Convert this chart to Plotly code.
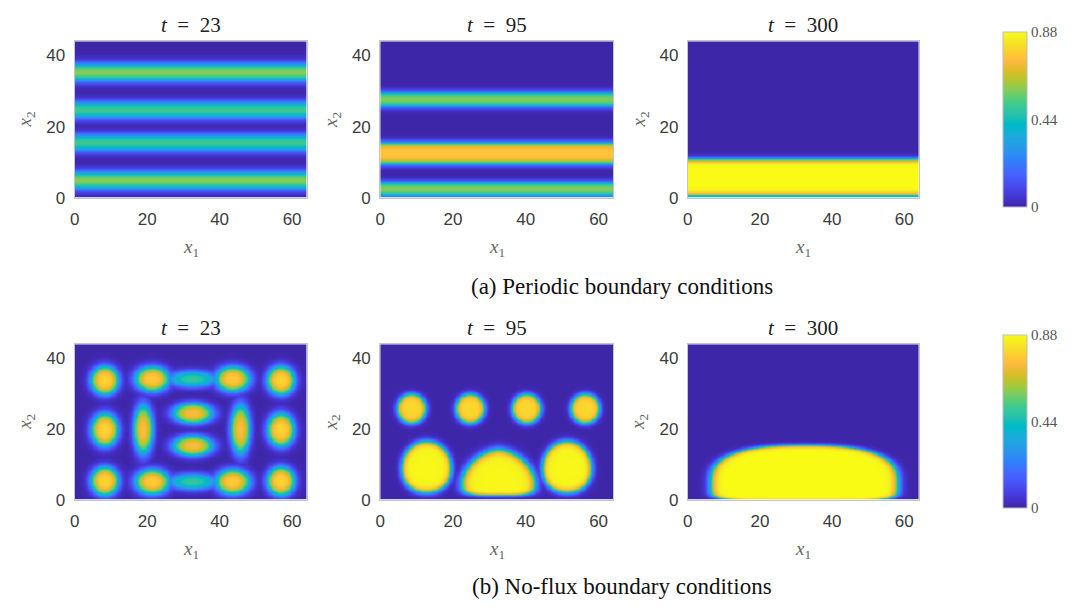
import numpy as np
import plotly.graph_objects as go

# ---------------- data ----------------
times = ["23", "95", "300"]
captions = ["(a) Periodic boundary conditions", "(b) No-flux boundary conditions"]
x_ticks = [0, 20, 40, 60]
y_ticks = [0, 20, 40]
cbar_ticks = [0, 0.44, 0.88]
cbar_labels = ["0", "0.44", "0.88"]
domain_x = [0, 64]
domain_y = [0, 44]

# periodic case: horizontal stripes (centre x2, half width, peak value, edge sharpness)
periodic_t23 = [(35.4, 2.2, 0.60, 1.6), (24.8, 2.1, 0.52, 1.6),
                (15.6, 2.1, 0.52, 1.6), (5.0, 2.2, 0.60, 1.6)]
periodic_t95 = [(27.8, 1.9, 0.60, 2.0), (12.6, 2.9, 0.76, 3.0),
                (2.6, 1.8, 0.60, 2.0), (0.0, 0.5, 0.32, 2.0)]
periodic_t300 = [(5.8, 5.1, 0.88, 6.0), (0.0, 0.5, 0.45, 2.0)]

# no-flux case: droplets
# (centre x1, centre x2, radius x1, radius x2 above, radius x2 below, peak, sharpness,
#  shape exponent above, shape exponent below)
noflux_t23 = [(8.2, 33.9, 3.6, 3.8, 3.8, 0.80, 2.6, 2.0, 2.0), (8.2, 19.9, 3.5, 4.4, 4.4, 0.80, 2.6, 2.0, 2.0),
              (8.2, 5.4, 3.6, 3.8, 3.8, 0.80, 2.6, 2.0, 2.0), (56.8, 33.9, 3.6, 3.8, 3.8, 0.80, 2.6, 2.0, 2.0),
              (56.8, 19.9, 3.5, 4.4, 4.4, 0.80, 2.6, 2.0, 2.0), (56.8, 5.4, 3.6, 3.8, 3.8, 0.80, 2.6, 2.0, 2.0),
              (21.3, 34.3, 4.4, 3.3, 3.3, 0.78, 2.4, 2.0, 2.0), (43.5, 34.3, 4.4, 3.3, 3.3, 0.78, 2.4, 2.0, 2.0),
              (32.4, 34.3, 6.2, 2.1, 2.1, 0.50, 2.0, 2.0, 2.0),
              (21.3, 5.2, 4.4, 3.3, 3.3, 0.78, 2.4, 2.0, 2.0), (43.5, 5.2, 4.4, 3.3, 3.3, 0.78, 2.4, 2.0, 2.0),
              (32.4, 5.2, 6.2, 2.1, 2.1, 0.50, 2.0, 2.0, 2.0),
              (18.8, 20.0, 2.5, 6.5, 6.5, 0.74, 2.4, 2.0, 2.0), (45.6, 20.0, 2.5, 6.5, 6.5, 0.74, 2.4, 2.0, 2.0),
              (32.5, 24.6, 5.1, 2.7, 2.7, 0.74, 2.4, 2.0, 2.0), (32.5, 15.4, 5.1, 2.7, 2.7, 0.74, 2.4, 2.0, 2.0)]
noflux_t95 = [(8.5, 25.9, 3.9, 4.1, 4.1, 0.80, 4.5, 2.0, 2.0), (24.6, 25.9, 3.9, 4.1, 4.1, 0.80, 4.5, 2.0, 2.0),
              (40.1, 25.9, 3.9, 4.1, 4.1, 0.80, 4.5, 2.0, 2.0), (56.2, 25.9, 3.9, 4.1, 4.1, 0.80, 4.5, 2.0, 2.0),
              (12.6, 9.0, 6.7, 7.6, 6.8, 0.87, 7.0, 2.0, 2.2), (51.2, 9.0, 6.7, 7.6, 6.8, 0.87, 7.0, 2.0, 2.2),
              (32.4, 5.0, 10.0, 9.3, 3.6, 0.87, 7.0, 1.7, 4.0)]
noflux_t300 = [(32.2, 5.0, 25.9, 10.5, 5.0, 0.88, 18.0, 2.6, 6.0)]

# ---------------- parula colour map ----------------
parula = [
    [0.2422, 0.1504, 0.6603], [0.2504, 0.1650, 0.7076], [0.2578, 0.1818, 0.7511], [0.2647, 0.1978, 0.7952],
    [0.2706, 0.2147, 0.8364], [0.2751, 0.2342, 0.8710], [0.2783, 0.2559, 0.8991], [0.2803, 0.2782, 0.9221],
    [0.2813, 0.3006, 0.9414], [0.2810, 0.3228, 0.9579], [0.2795, 0.3447, 0.9717], [0.2760, 0.3667, 0.9829],
    [0.2699, 0.3892, 0.9906], [0.2602, 0.4123, 0.9952], [0.2440, 0.4358, 0.9988], [0.2206, 0.4603, 0.9973],
    [0.1963, 0.4847, 0.9892], [0.1834, 0.5074, 0.9798], [0.1786, 0.5289, 0.9682], [0.1764, 0.5499, 0.9520],
    [0.1687, 0.5703, 0.9359], [0.1540, 0.5902, 0.9218], [0.1460, 0.6091, 0.9079], [0.1380, 0.6276, 0.8973],
    [0.1248, 0.6459, 0.8883], [0.1113, 0.6635, 0.8763], [0.0952, 0.6798, 0.8598], [0.0689, 0.6948, 0.8394],
    [0.0297, 0.7082, 0.8163], [0.0036, 0.7203, 0.7917], [0.0067, 0.7312, 0.7660], [0.0433, 0.7411, 0.7394],
    [0.0964, 0.7500, 0.7120], [0.1408, 0.7584, 0.6842], [0.1717, 0.7670, 0.6554], [0.1938, 0.7758, 0.6251],
    [0.2161, 0.7843, 0.5923], [0.2470, 0.7918, 0.5567], [0.2906, 0.7973, 0.5188], [0.3406, 0.8008, 0.4789],
    [0.3909, 0.8029, 0.4354], [0.4456, 0.8024, 0.3909], [0.5044, 0.7993, 0.3480], [0.5616, 0.7942, 0.3045],
    [0.6174, 0.7876, 0.2612], [0.6720, 0.7793, 0.2227], [0.7242, 0.7698, 0.1910], [0.7738, 0.7598, 0.1646],
    [0.8203, 0.7498, 0.1535], [0.8634, 0.7406, 0.1596], [0.9035, 0.7330, 0.1774], [0.9393, 0.7288, 0.2100],
    [0.9728, 0.7298, 0.2394], [0.9956, 0.7434, 0.2371], [0.9970, 0.7659, 0.2199], [0.9952, 0.7893, 0.2028],
    [0.9892, 0.8136, 0.1885], [0.9786, 0.8386, 0.1766], [0.9676, 0.8639, 0.1643], [0.9610, 0.8890, 0.1537],
    [0.9597, 0.9135, 0.1423], [0.9628, 0.9373, 0.1265], [0.9691, 0.9606, 0.1064], [0.9769, 0.9839, 0.0805]]
colorscale = [[i / (len(parula) - 1), "rgb(%d,%d,%d)" % tuple(int(round(255 * c)) for c in col)]
              for i, col in enumerate(parula)]

# ---------------- build the fields from the features ----------------
xg = np.linspace(domain_x[0], domain_x[1], 193)
yg = np.linspace(domain_y[0], domain_y[1], 133)
XX, YY = np.meshgrid(xg, yg)


def edge(d, k):
    return (1 - np.tanh((d - 1) * k)) / (1 - np.tanh(-k))


def stripes_field(stripes):
    z = np.zeros_like(YY)
    for c, hw, peak, k in stripes:
        z = np.maximum(z, peak * edge(np.abs(YY - c) / hw, k))
    return z


def drops_field(drops):
    z = np.zeros_like(XX)
    for cx, cy, rx, ry_up, ry_dn, peak, k, p_up, p_dn in drops:
        above = YY >= cy
        ry = np.where(above, ry_up, ry_dn)
        p = np.where(above, p_up, p_dn)
        d = ((np.abs(XX - cx) / rx) ** p + (np.abs(YY - cy) / ry) ** p) ** (1 / p)
        z = np.maximum(z, peak * edge(d, k))
    return z


fields = [[stripes_field(periodic_t23), stripes_field(periodic_t95), stripes_field(periodic_t300)],
          [drops_field(noflux_t23), drops_field(noflux_t95), drops_field(noflux_t300)]]

# ---------------- layout geometry (pixels) ----------------
W, H = 1072, 610
col_px = [(70, 303), (377, 611), (686, 918)]
row_px = [(42, 201), (350, 508)]
cbar_px = [(34, 209), (342, 515)]
caption_y = [291, 596]
caption_x = 620

fx = lambda px: px / W
fy = lambda py: 1 - py / H

fig = go.Figure()
annotations = []
layout_axes = {}
serif = "Liberation Serif"
sans = "Liberation Sans"

for r in range(2):
    for c in range(3):
        idx = r * 3 + c + 1
        xa = "x" if idx == 1 else "x%d" % idx
        ya = "y" if idx == 1 else "y%d" % idx
        fig.add_trace(go.Heatmap(x=xg, y=yg, z=fields[r][c], coloraxis="coloraxis" if r == 0 else "coloraxis2",
                                 zsmooth="best", xaxis=xa, yaxis=ya, hoverinfo="skip"))
        x0, x1 = col_px[c]
        y0, y1 = row_px[r]
        axcommon = dict(showgrid=False, zeroline=False, showline=True, linecolor="#c4c4c4", linewidth=1,
                        mirror=True, ticks="", tickfont=dict(family=sans, size=17, color="#3c3c3c"))
        layout_axes["xaxis" if idx == 1 else "xaxis%d" % idx] = dict(
            domain=[fx(x0), fx(x1)], anchor=ya, range=domain_x, tickvals=x_ticks, ticklabelstandoff=6, **axcommon)
        layout_axes["yaxis" if idx == 1 else "yaxis%d" % idx] = dict(
            domain=[fy(y1), fy(y0)], anchor=xa, range=domain_y, tickvals=y_ticks, ticklabelstandoff=5, **axcommon)
        cx = (x0 + x1) / 2
        annotations.append(dict(text="<i>t</i>  =  " + times[c], x=fx(cx), y=fy(y0 - 17), xref="paper", yref="paper",
                                showarrow=False, xanchor="center", yanchor="middle",
                                font=dict(family=serif, size=21, color="#222")))
        annotations.append(dict(text="<i>x</i><sub>1</sub>", x=fx(cx), y=fy(y1 + 51), xref="paper", yref="paper",
                                showarrow=False, xanchor="center", yanchor="middle",
                                font=dict(family=serif, size=19, color="#666")))
        annotations.append(dict(text="<i>x</i><sub>2</sub>", x=fx(x0 - 49), y=fy((y0 + y1) / 2), xref="paper",
                                yref="paper", showarrow=False, xanchor="center", yanchor="middle", textangle=-90,
                                font=dict(family=serif, size=19, color="#666")))
    annotations.append(dict(text=captions[r], x=fx(caption_x), y=fy(caption_y[r]), xref="paper", yref="paper",
                            showarrow=False, xanchor="center", yanchor="middle",
                            font=dict(family=serif, size=23, color="#111")))


def cbar(r):
    t, b = cbar_px[r]
    return dict(cmin=0, cmax=0.88, colorscale=colorscale,
                colorbar=dict(x=fx(1003), xanchor="left", xpad=0, ypad=0, y=fy((t + b) / 2), yanchor="middle",
                              len=b - t, lenmode="pixels", thickness=24, thicknessmode="pixels",
                              tickvals=cbar_ticks, ticktext=cbar_labels, ticks="",
                              tickfont=dict(family=serif, size=15, color="#555"),
                              outlinecolor="#bdbdbd", outlinewidth=1))


fig.update_layout(width=W, height=H, autosize=False, margin=dict(l=0, r=0, t=0, b=0),
                  paper_bgcolor="white", plot_bgcolor="white", showlegend=False,
                  coloraxis=cbar(0), coloraxis2=cbar(1), annotations=annotations, **layout_axes)
fig.write_html("out.html")
